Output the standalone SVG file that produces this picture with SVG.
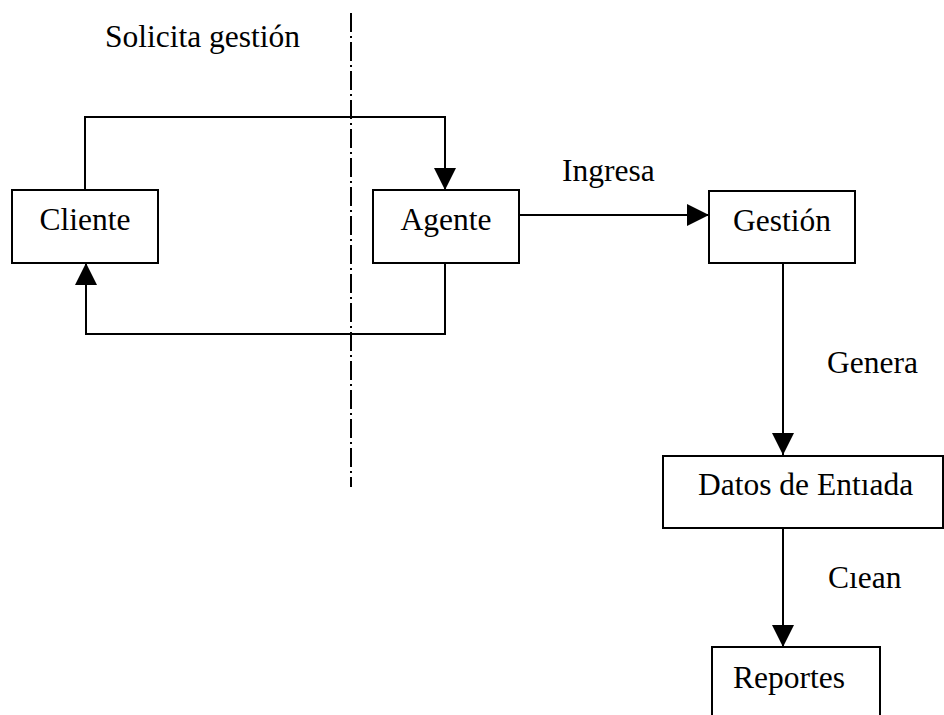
<svg xmlns="http://www.w3.org/2000/svg" width="944" height="715" viewBox="0 0 944 715">
<style>
.box{fill:#fff;stroke:#000;stroke-width:2}
.t{font-family:"Liberation Serif","Times New Roman",serif;font-size:31.5px;fill:#000}
.c{fill:none;stroke:#000;stroke-width:2}
.dd{fill:none;stroke:#000;stroke-width:2;stroke-dasharray:19 4 2 4}
</style>
<defs>
<marker id="ah" markerUnits="userSpaceOnUse" markerWidth="22" markerHeight="22" viewBox="0 0 20 20" refX="20" refY="10" orient="auto">
<path d="M0,0 L20,10 L0,20 Z" fill="#000"/>
</marker>
</defs>
<rect width="944" height="715" fill="#fff"/>
<line class="dd" x1="351" y1="13" x2="351" y2="487"/>
<text class="t" x="105" y="47">Solicita gestión</text>
<g id="connectors">
<path class="c" d="M85,190 V117 H445 V190" marker-end="url(#ah)"/>
<path class="c" d="M445,263 V334 H86 V263" marker-end="url(#ah)"/>
<path class="c" d="M519,215 H709" marker-end="url(#ah)"/>
<path class="c" d="M783,263 V455" marker-end="url(#ah)"/>
<path class="c" d="M783,528 V647" marker-end="url(#ah)"/>
<text class="t" x="562" y="181">Ingresa</text>
<text class="t" x="827" y="373">Genera</text>
<text class="t" x="828" y="588">Cıean</text>
</g>
<g id="cliente">
<rect class="box" x="12" y="190" width="146" height="73"/>
<text class="t" x="85" y="230" text-anchor="middle">Cliente</text>
</g>
<g id="agente">
<rect class="box" x="373" y="190" width="146" height="73"/>
<text class="t" x="446" y="230" text-anchor="middle">Agente</text>
</g>
<g id="gestion">
<rect class="box" x="709" y="191" width="146" height="72"/>
<text class="t" x="782" y="231" text-anchor="middle">Gestión</text>
</g>
<g id="datos">
<rect class="box" x="663" y="456" width="280" height="72"/>
<text class="t" x="698" y="495">Datos de Entıada</text>
</g>
<g id="reportes">
<rect class="box" x="712" y="647" width="168" height="80"/>
<text class="t" x="789" y="688" text-anchor="middle">Reportes</text>
</g>
</svg>
